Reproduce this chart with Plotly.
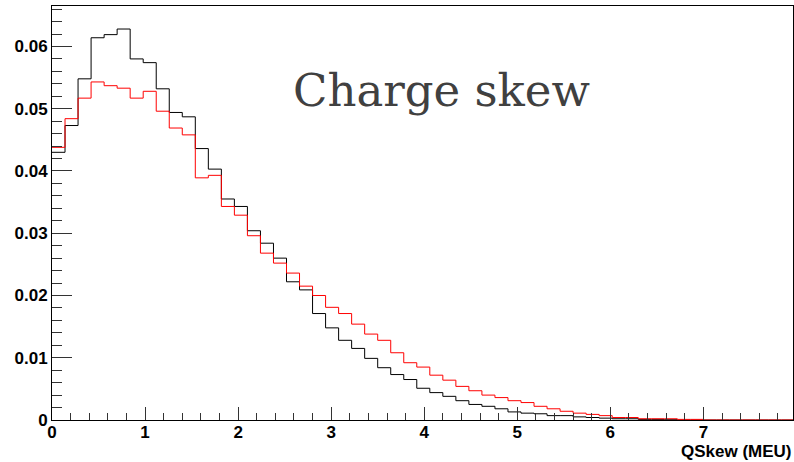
import plotly.graph_objects as go

# Histogram binning (bin width 0.14 in MEU)
bin_width = 0.14
n_bins = 57

black_vals = [
    0.0430, 0.0473, 0.0548, 0.0614, 0.0619, 0.0628, 0.0580, 0.0574, 0.0532, 0.0494,
    0.0487, 0.0436, 0.0403, 0.0355, 0.0343, 0.0304, 0.0284, 0.0260, 0.0222, 0.0209,
    0.0171, 0.0148, 0.0128, 0.0115, 0.0099, 0.0084, 0.0073, 0.0065, 0.0051, 0.0044,
    0.0038, 0.0031, 0.0025, 0.0022, 0.0018, 0.0013, 0.0011, 0.0010, 0.0007, 0.0007,
    0.0005, 0.0004, 0.0003, 0.0002, 0.0002, 0.0001, 0.0001, 0.00005, 0.0, 0.0,
    0.0, 0.0, 0.0, 0.0, 0.0, 0.0, 0.0,
]

red_vals = [
    0.0438, 0.0484, 0.0517, 0.0543, 0.0537, 0.0533, 0.0517, 0.0528, 0.0496, 0.0469,
    0.0458, 0.0389, 0.0393, 0.0343, 0.0329, 0.0296, 0.0268, 0.0252, 0.0236, 0.0215,
    0.0200, 0.0181, 0.0171, 0.0154, 0.0138, 0.0128, 0.0108, 0.0092, 0.0085, 0.0072,
    0.0064, 0.0054, 0.0047, 0.0040, 0.0036, 0.0031, 0.0028, 0.0022, 0.0018, 0.0014,
    0.0011, 0.0009, 0.0007, 0.0004, 0.0004, 0.0002, 0.0002, 0.0002, 0.0001, 0.0001,
    0.0, 0.0, 0.0, 0.0, 0.0, 0.0, 0.0,
]

x_tick_vals = [0, 1, 2, 3, 4, 5, 6, 7]
x_tick_text = ["0", "1", "2", "3", "4", "5", "6", "7"]
y_tick_vals = [0, 0.01, 0.02, 0.03, 0.04, 0.05, 0.06]
y_tick_text = ["0", "0.01", "0.02", "0.03", "0.04", "0.05", "0.06"]

title_text = "Charge skew"
x_title = "QSkew (MEU)"

edges = [round(i * bin_width, 4) for i in range(n_bins + 1)]


def step_xy(vals):
    xs = edges[:len(vals) + 1]
    ys = list(vals) + [vals[-1]]
    return xs, ys


fig = go.Figure()
for vals, col in [(black_vals, "#000000"), (red_vals, "#ff0000")]:
    xs, ys = step_xy(vals)
    fig.add_trace(go.Scatter(x=xs, y=ys, mode="lines", line_shape="hv",
                             line=dict(color=col, width=1), showlegend=False,
                             hoverinfo="skip", cliponaxis=True))

tickfont = dict(family="Liberation Sans, Arial, sans-serif", size=17, color="black", weight="bold")

L, R, T, B = 52, 1, 6, 42
W, H = 794, 462
PW, PH = W - L - R, H - T - B

fig.update_layout(
    width=W, height=H,
    margin=dict(l=L, r=R, t=T, b=B, autoexpand=False),
    paper_bgcolor="white", plot_bgcolor="white",
    showlegend=False,
    xaxis=dict(range=[0, 7.963], showgrid=False, zeroline=False, automargin=False,
               showline=True, linecolor="black", linewidth=1, mirror=True,
               ticks="inside", ticklen=13, tickcolor="#333", tickwidth=1,
               tickvals=x_tick_vals, ticktext=x_tick_text, tickfont=tickfont,
               ticklabelstandoff=-3,
               minor=dict(dtick=0.2, ticks="inside", ticklen=7, tickcolor="#333", showgrid=False)),
    yaxis=dict(range=[0, 0.0665], showgrid=False, zeroline=False, automargin=False,
               showline=True, linecolor="black", linewidth=1, mirror=True,
               ticks="inside", ticklen=20, tickcolor="#333", tickwidth=1,
               tickvals=y_tick_vals, ticktext=y_tick_text, tickfont=tickfont,
               minor=dict(dtick=0.002, ticks="inside", ticklen=10, tickcolor="#333", showgrid=False)),
    annotations=[
        dict(text=title_text, xref="paper", yref="paper", x=(441.5 - L) / PW, y=(H - B - 90) / PH,
             xanchor="center", yanchor="middle", showarrow=False,
             font=dict(family="DejaVu Serif, serif", size=45, color="#404040")),
        dict(text=x_title, xref="paper", yref="paper", x=1.0, y=-(462 - 0.5 - (H - B)) / PH,
             xanchor="right", yanchor="bottom", showarrow=False, borderpad=0,
             font=dict(family="Liberation Sans, Arial, sans-serif", size=17, color="black", weight="bold")),
    ],
)

fig.write_html("out.html", config={"displayModeBar": False},
               post_script="document.body.style.margin='0px';document.body.style.padding='0px';")
